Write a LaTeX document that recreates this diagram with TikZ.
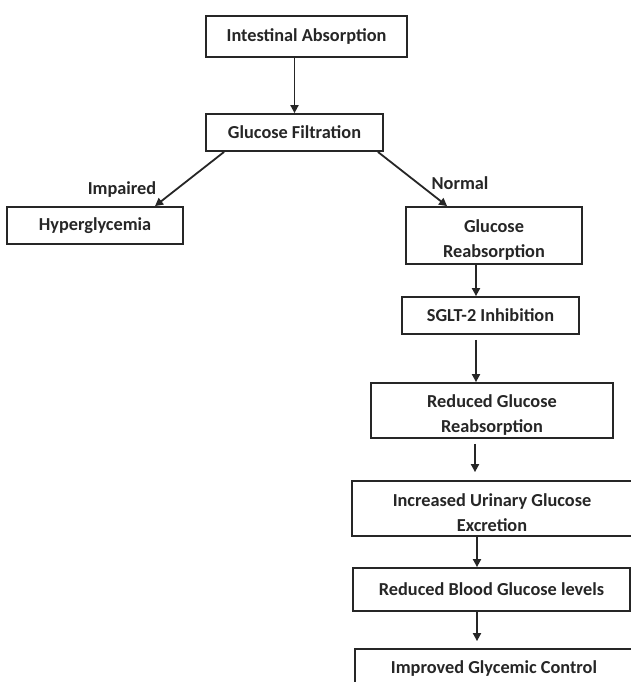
\documentclass[tikz,border=0pt]{standalone}
\usepackage{fontspec}
\setmainfont{Carlito}
\usetikzlibrary{arrows.meta}
\definecolor{ink}{HTML}{262626}
\newcommand{\lowstrut}{\rule{0pt}{22pt}}
\tikzset{
  box/.style={draw=ink, line width=1.8pt, text=ink, font=\bfseries\fontsize{18.3}{25}\selectfont,
    align=center, inner sep=0pt, anchor=center},
  lbl/.style={text=ink, font=\bfseries\fontsize{18.3}{20}\selectfont, inner sep=0pt},
  arr/.style={draw=ink, line width=1.8pt, -{Triangle[length=8pt,width=8pt]}}
}
\begin{document}
\begin{tikzpicture}[x=1pt,y=-1pt]
\useasboundingbox[fill=white] (0,0) rectangle (631,682);
\clip (0,0) rectangle (631,682);
\node[box, minimum width=201pt, minimum height=41pt] (ia) at (306.5,36.5) {Intestinal Absorption};
\node[box, minimum width=177pt, minimum height=37pt] (gf) at (294.5,132.5) {Glucose Filtration};
\node[box, minimum width=176pt, minimum height=37pt] (hy) at (95,225.5) {Hyperglycemia};
\node[box, minimum width=176pt, minimum height=57pt] (gr) at (494,235.5) {\lowstrut Glucose\\Reabsorption};
\node[box, minimum width=177pt, minimum height=37pt] (sg) at (490.5,315.5) {SGLT-2 Inhibition};
\node[box, minimum width=242pt, minimum height=55pt] (rgr) at (492,410.5) {\lowstrut Reduced Glucose\\Reabsorption};
\node[box, minimum width=280pt, minimum height=55pt] (iu) at (492,508.5) {\lowstrut Increased Urinary Glucose\\Excretion};
\node[box, minimum width=277pt, minimum height=43pt] (rb) at (491.5,589.5) {Reduced Blood Glucose levels};
\node[box, minimum width=278pt, minimum height=60pt] (ic) at (494,679) {};
\node[text=ink, font=\bfseries\fontsize{18.3}{20}\selectfont] (ict) at (494,669) {Improved Glycemic Control};
\node[lbl] (imp) at (122,190) {Impaired};
\node[lbl] (nor) at (460,183) {Normal};
\coordinate (a1) at (ia.south -| gf.north);
\draw[arr] (a1) -- (gf.north);
\draw[arr] ([xshift=19pt]gf.south west) -- ([xshift=60pt]hy.north);
\draw[arr] ([xshift=-6pt]gf.south east) -- ([xshift=42pt]gr.north west);
\draw[arr] ([xshift=-18pt]gr.south) -- ([xshift=-18pt]gr.south |- sg.north);
\draw[arr] ([xshift=-14.5pt,yshift=-5pt]sg.south) -- ([xshift=-14.5pt]sg.south |- rgr.north);
\draw[arr] ([xshift=-17pt,yshift=-5pt]rgr.south) -- ([xshift=-17pt,yshift=8pt]rgr.south |- iu.north);
\draw[arr] ([xshift=-15pt]iu.south) -- ([xshift=-15pt]iu.south |- rb.north);
\draw[arr] ([xshift=-14.5pt]rb.south) -- ([xshift=-14.5pt,yshift=7pt]rb.south |- ic.north);
\end{tikzpicture}
\end{document}
